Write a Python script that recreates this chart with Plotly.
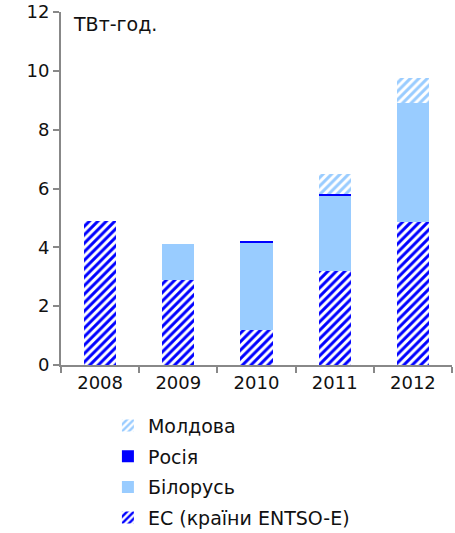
import plotly.graph_objects as go

# Electricity exports by destination, TWh
years = ["2008", "2009", "2010", "2011", "2012"]
eu_entsoe = [4.9, 2.9, 1.2, 3.2, 4.87]
belarus = [0.0, 1.22, 2.95, 2.55, 4.05]
russia = [0.0, 0.0, 0.08, 0.07, 0.0]
moldova = [0.0, 0.0, 0.0, 0.67, 0.84]

names = ["ЕС (країни ENTSO-E)", "Білорусь", "Росія", "Молдова"]
title_text = "Експорт електроенергії з України"
unit_text = "ТВт-год."

BLUE = "#0000FF"
LIGHT = "#99CCFF"
FONT = "DejaVu Sans"
INK = "#111111"


def hatch(color):
    return dict(shape="/", fgcolor=color, bgcolor="white", fgopacity=1,
                size=6, solidity=0.5, fillmode="replace")


fig = go.Figure()
fig.add_trace(go.Bar(
    x=years, y=eu_entsoe, name=names[0], legendgroup="eu", legendrank=4,
    marker=dict(color=BLUE, line=dict(width=0), pattern=hatch(BLUE)),
))
fig.add_trace(go.Bar(
    x=years, y=belarus, name=names[1], legendgroup="by", legendrank=3,
    marker=dict(color=LIGHT, line=dict(width=0)),
))
fig.add_trace(go.Bar(
    x=years, y=russia, name=names[2], legendgroup="ru", legendrank=2,
    marker=dict(color=BLUE, line=dict(width=0)),
))
fig.add_trace(go.Bar(
    x=years, y=moldova, name=names[3], legendgroup="md", legendrank=1,
    marker=dict(color=LIGHT, line=dict(width=0), pattern=hatch(LIGHT)),
))

fig.update_layout(
    width=455, height=533,
    margin=dict(l=61, r=3, t=12, b=168, autoexpand=False),
    barmode="stack",
    bargap=0.59,
    plot_bgcolor="white",
    paper_bgcolor="white",
    font=dict(family=FONT, size=18, color=INK),
    showlegend=True,
    legend=dict(
        traceorder="grouped",
        tracegroupgap=3,
        orientation="v",
        x=0.12, xanchor="left",
        y=-0.118, yanchor="top",
        font=dict(family=FONT, size=19, color=INK),
        itemwidth=30,
        bgcolor="rgba(0,0,0,0)",
    ),
    xaxis=dict(
        type="category",
        showline=True, linecolor="#888888", linewidth=2,
        ticks="outside", ticklen=6, tickcolor="#888888", tickwidth=2,
        tickson="boundaries",
        showgrid=False,
        tickfont=dict(family=FONT, size=18, color=INK),
    ),
    yaxis=dict(
        range=[0, 12], dtick=2,
        showline=True, linecolor="#888888", linewidth=2,
        ticks="outside", ticklen=6, tickcolor="#888888", tickwidth=2,
        showgrid=False, zeroline=False,
        tickfont=dict(family=FONT, size=18, color=INK),
    ),
    annotations=[
        dict(text=unit_text, xref="paper", yref="paper",
             x=0.025, y=0.965, xanchor="left", yanchor="middle",
             showarrow=False,
             font=dict(family=FONT, size=19, color=INK)),
        dict(text="<b>" + title_text + "</b>", xref="paper", yref="paper",
             x=0.5, y=1.0, yshift=22, xanchor="center", yanchor="bottom",
             showarrow=False,
             font=dict(family=FONT, size=18, color=INK)),
    ],
)

fig.write_html("out.html")
